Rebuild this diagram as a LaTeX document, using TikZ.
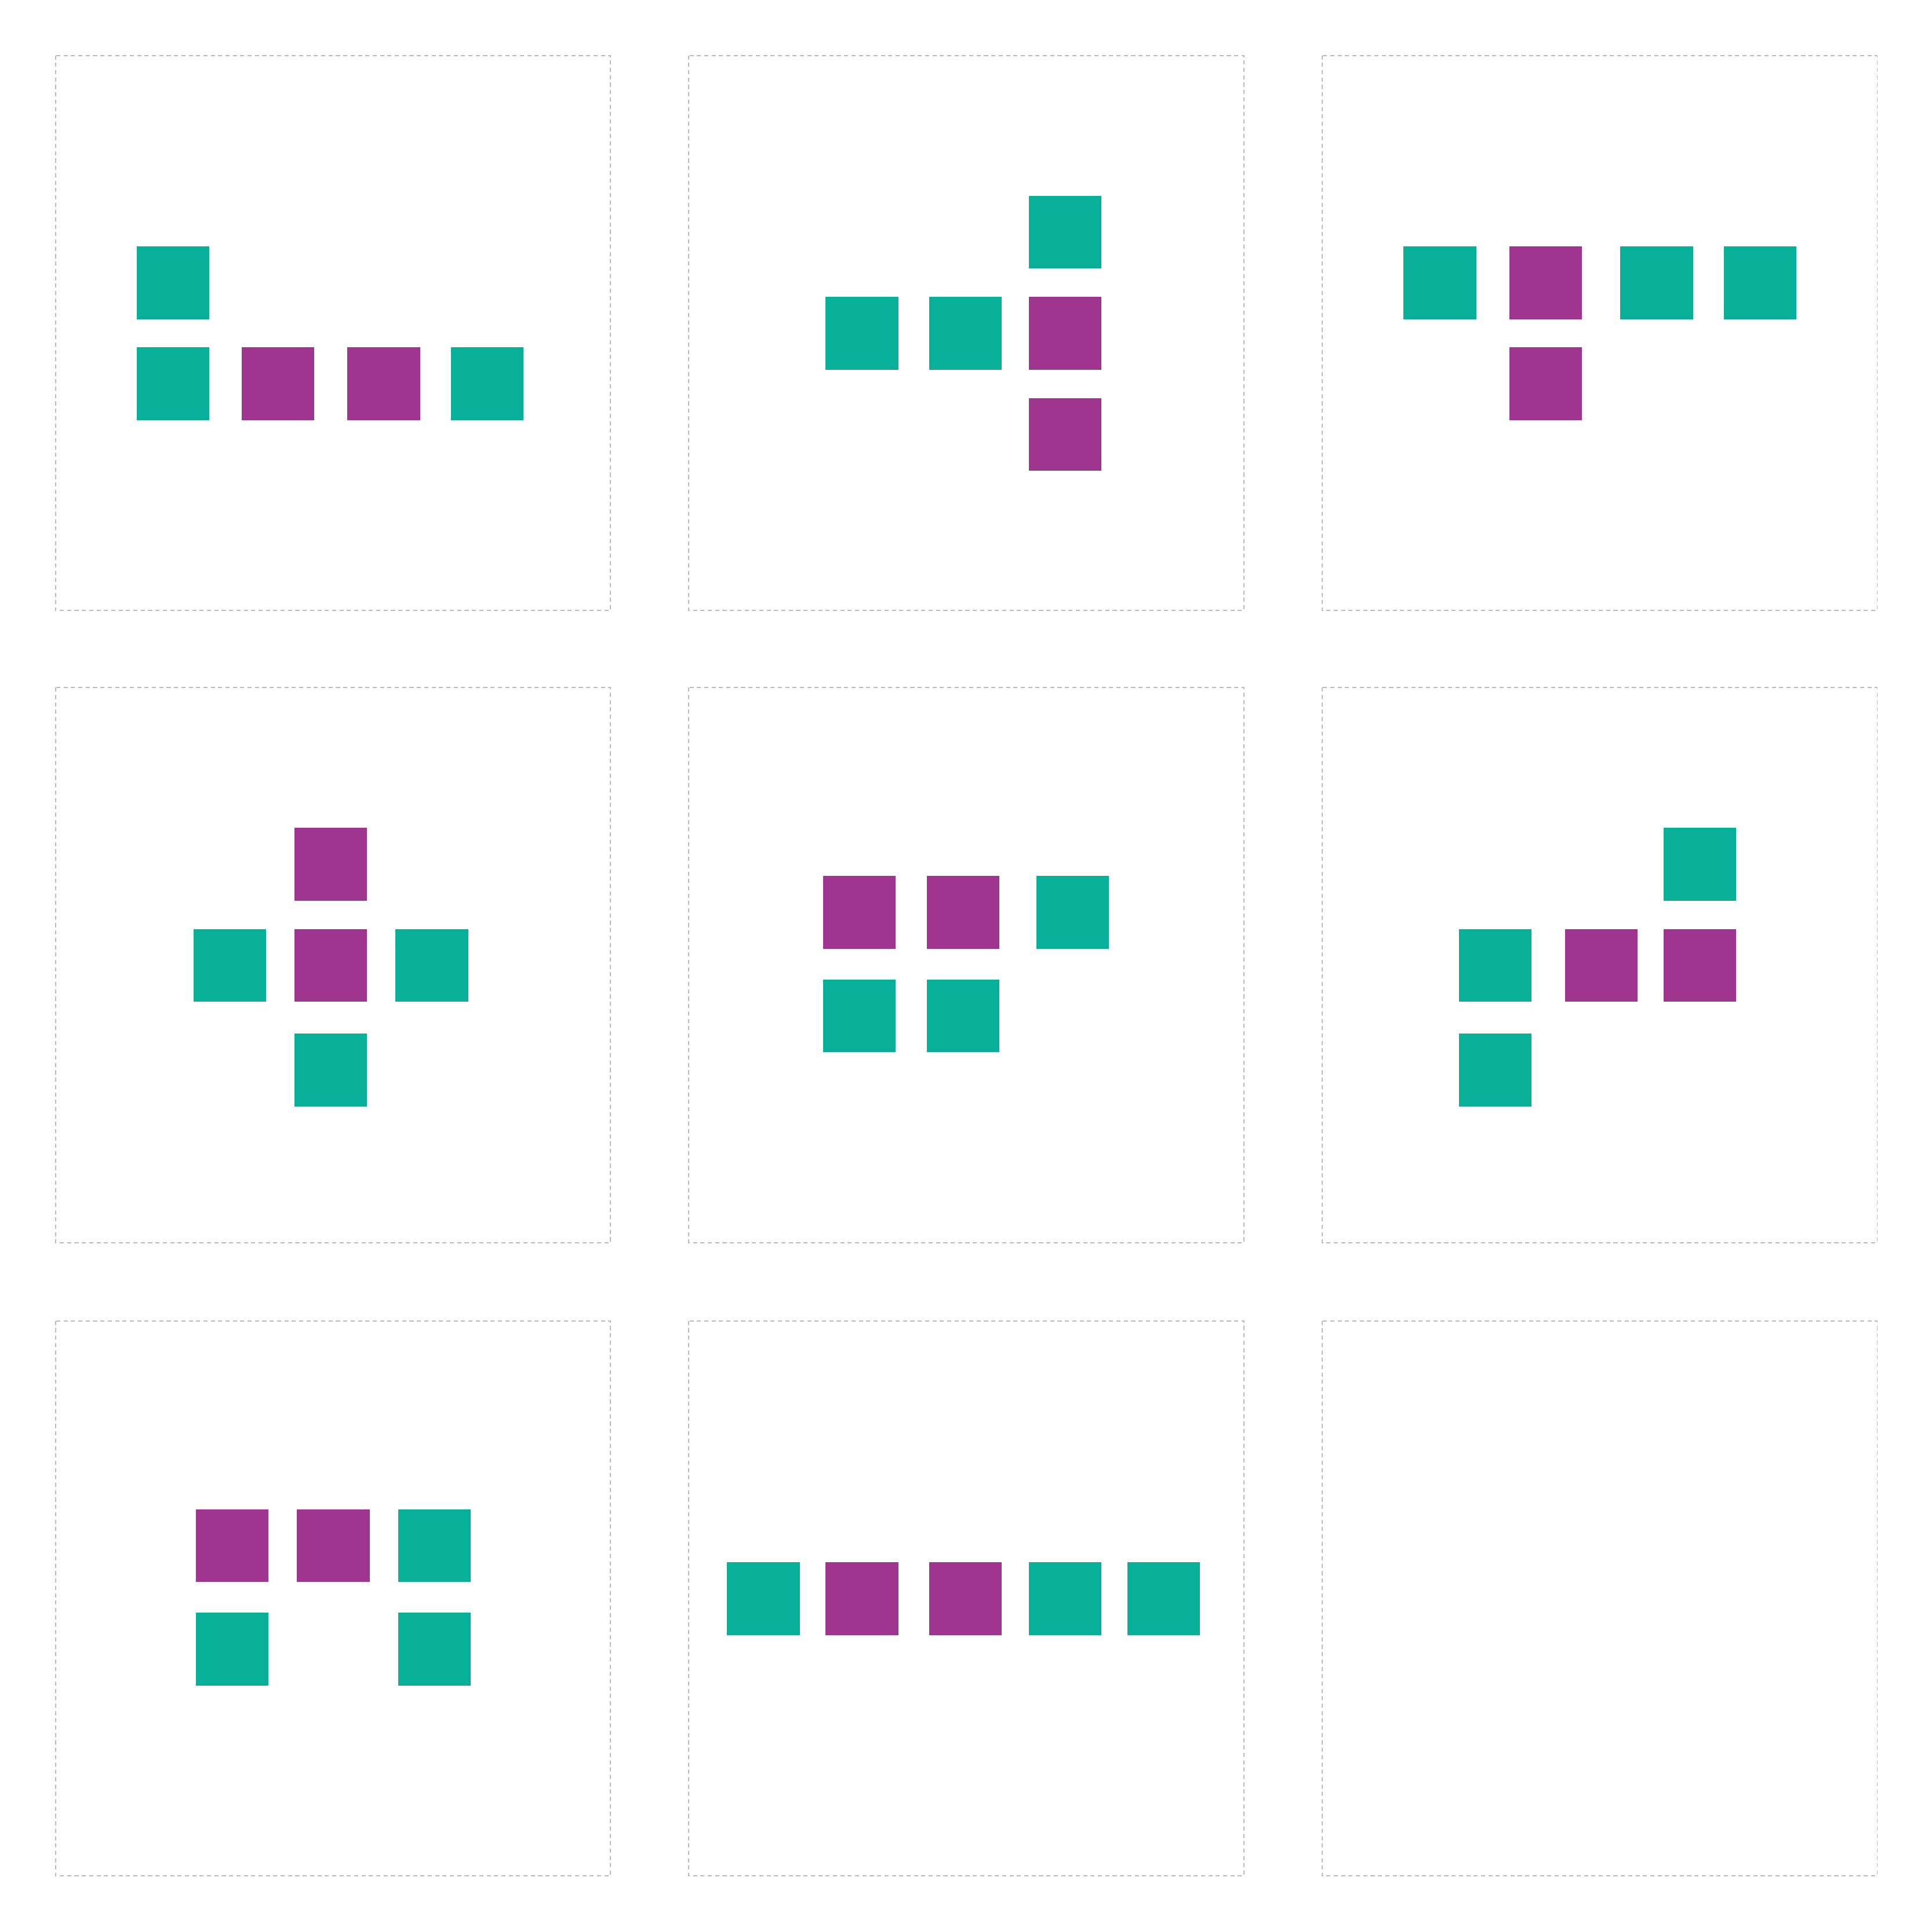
\documentclass[tikz,border=0pt]{standalone}
\definecolor{tealc}{HTML}{08AF99}
\definecolor{purpc}{HTML}{A0358F}
\definecolor{framec}{HTML}{BBBBBB}
\begin{document}
\begin{tikzpicture}[x=0.02cm,y=-0.02cm,
  panel/.style={draw=framec,line width=0.5pt,dash pattern=on 1.9pt off 1.5pt},
  sq/.style={minimum size=1.18cm,inner sep=0pt,outer sep=0pt,anchor=north west,draw=none},
  tq/.style={sq,fill=tealc},
  pq/.style={sq,fill=purpc}]
\useasboundingbox[fill=white] (0,0) rectangle (1568,1568);
% panels
\foreach \px/\py [count=\i] in {45/45,559/45,1073/45,45/558,559/558,1073/558,45/1072,559/1072,1073/1072}{
  \draw[panel] (\px,\py) rectangle ++(450.5,450.5);
}
% panel 1
\node[tq] (a1) at (111,200) {};
\node[tq] (a2) at (111,282) {};
\node[pq] (a3) at (196,282) {};
\node[pq] (a4) at (282,282) {};
\node[tq] (a5) at (366,282) {};
% panel 2
\node[tq] (b1) at (835,159) {};
\node[tq] (b2) at (670,241) {};
\node[tq] (b3) at (754,241) {};
\node[pq] (b4) at (835,241) {};
\node[pq] (b5) at (835,323) {};
% panel 3
\node[tq] (c1) at (1139,200) {};
\node[pq] (c2) at (1225,200) {};
\node[tq] (c3) at (1315,200) {};
\node[tq] (c4) at (1399,200) {};
\node[pq] (c5) at (1225,282) {};
% panel 4
\node[pq] (d1) at (239,672) {};
\node[tq] (d2) at (157,754) {};
\node[pq] (d3) at (239,754) {};
\node[tq] (d4) at (321,754) {};
\node[tq] (d5) at (239,839) {};
% panel 5
\node[pq] (e1) at (668,711) {};
\node[pq] (e2) at (752,711) {};
\node[tq] (e3) at (841,711) {};
\node[tq] (e4) at (668,795) {};
\node[tq] (e5) at (752,795) {};
% panel 6
\node[tq] (f1) at (1350,672) {};
\node[tq] (f2) at (1184,754) {};
\node[pq] (f3) at (1270,754) {};
\node[pq] (f4) at (1350,754) {};
\node[tq] (f5) at (1184,839) {};
% panel 7
\node[pq] (g1) at (159,1225) {};
\node[pq] (g2) at (241,1225) {};
\node[tq] (g3) at (323,1225) {};
\node[tq] (g4) at (159,1309) {};
\node[tq] (g5) at (323,1309) {};
% panel 8
\node[tq] (h1) at (590,1268) {};
\node[pq] (h2) at (670,1268) {};
\node[pq] (h3) at (754,1268) {};
\node[tq] (h4) at (835,1268) {};
\node[tq] (h5) at (915,1268) {};
\end{tikzpicture}
\end{document}
